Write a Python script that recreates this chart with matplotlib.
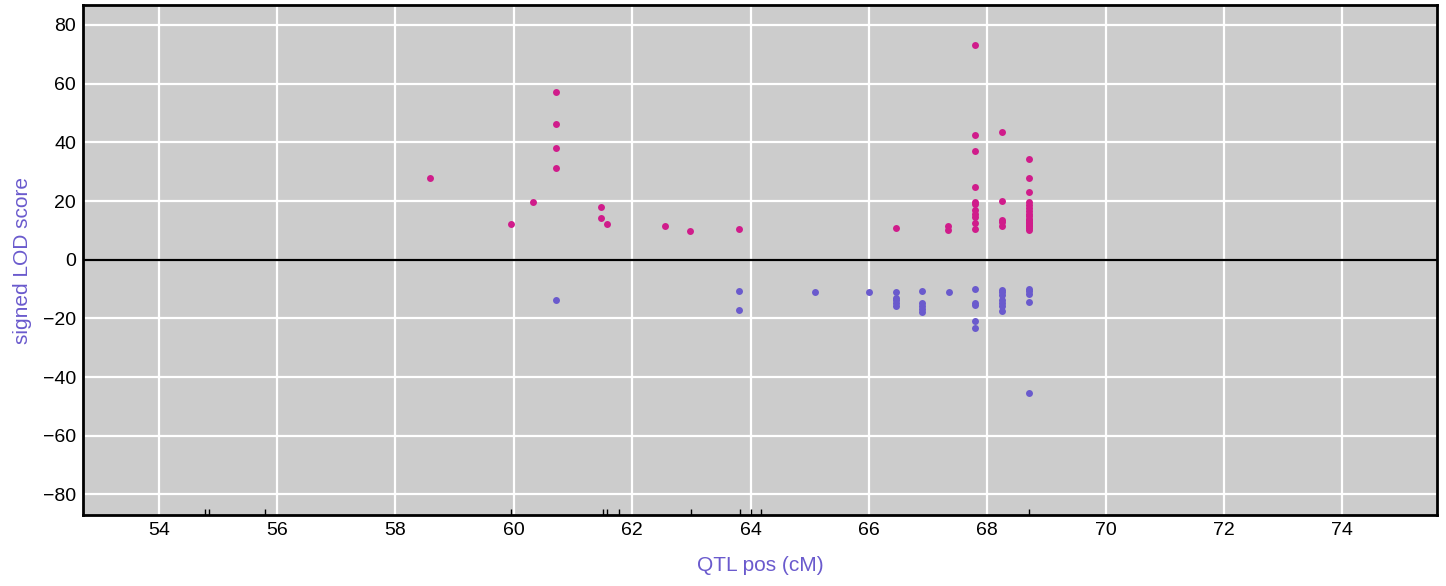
import numpy as np
import matplotlib.pyplot as plt

plt.rcParams['font.family'] = ['Liberation Sans', 'DejaVu Sans']

# positive LOD (pink)
pos_x = [58.58, 59.96, 60.33, 60.72, 60.72, 60.72, 60.72, 61.48, 61.48, 61.57,
         62.56, 62.97, 63.81, 66.45, 67.34, 67.34,
         67.80, 67.80, 67.80, 67.80, 67.80, 67.80, 67.80, 67.80, 67.80, 67.80, 67.80,
         68.25, 68.25, 68.25, 68.25, 68.25,
         68.70, 68.70, 68.70, 68.70, 68.70, 68.70, 68.70, 68.70, 68.70, 68.70,
         68.70, 68.70, 68.70, 68.70, 68.70, 68.70, 68.70]
pos_y = [28.0, 12.3, 19.8, 57.0, 46.4, 38.2, 31.1, 18.1, 14.3, 12.3,
         11.6, 9.9, 10.6, 10.9, 11.4, 10.2,
         73.1, 42.4, 36.9, 24.9, 19.6, 18.9, 16.9, 15.7, 14.5, 12.6, 10.5,
         43.5, 20.0, 13.6, 12.7, 11.6,
         34.3, 28.0, 23.0, 19.6, 18.5, 17.6, 16.5, 15.5, 14.8, 14.0,
         13.6, 12.9, 12.5, 11.8, 11.4, 10.8, 10.2]

# negative LOD (purple)
neg_x = [60.72, 63.81, 63.81, 65.09, 66.00,
         66.45, 66.45, 66.45, 66.45, 66.45,
         66.90, 66.90, 66.90, 66.90, 66.90,
         67.35,
         67.80, 67.80, 67.80, 67.80, 67.80,
         68.25, 68.25, 68.25, 68.25, 68.25, 68.25, 68.25,
         68.70, 68.70, 68.70, 68.70, 68.70]
neg_y = [-13.9, -10.8, -17.2, -10.9, -11.0,
         -11.1, -13.1, -13.9, -14.8, -15.7,
         -10.5, -14.8, -15.7, -16.7, -17.7,
         -11.0,
         -10.0, -14.6, -15.4, -20.8, -23.2,
         -10.4, -11.1, -11.9, -13.9, -14.8, -15.7, -17.6,
         -10.0, -10.8, -11.6, -14.3, -45.3]

# marker positions shown as a rug on the x axis
rug_x = [54.78, 54.85, 55.80, 59.95, 61.50, 61.58, 61.78, 62.99,
         63.82, 64.00, 64.18, 68.71]

fig = plt.figure(figsize=(14.46, 5.86), dpi=100)
ax = fig.add_axes([83 / 1446, 1 - 515 / 586, (1437 - 83) / 1446, (515 - 5) / 586])
ax.set_facecolor('#cccccc')

ax.set_xlim(52.72, 75.6)
ax.set_ylim(-87, 86.8)
ax.set_xticks(np.arange(54, 76, 2))
ax.set_yticks(np.arange(-80, 81, 20))
ax.grid(color='white', linewidth=1.6)
ax.set_axisbelow(True)
ax.tick_params(length=0, labelsize=14)
ax.tick_params(axis='x', pad=5)
ax.tick_params(axis='y', pad=5)
for s in ax.spines.values():
    s.set_linewidth(2)
    s.set_color('black')

ax.axhline(0, color='black', linewidth=1.6, zorder=2)
ax.vlines(rug_x, 0, 0.011, transform=ax.get_xaxis_transform(), color='black', linewidth=1)

ax.scatter(pos_x, pos_y, s=25, color='#d01c8b', linewidths=0, zorder=3)
ax.scatter(neg_x, neg_y, s=25, color='#6a5acd', linewidths=0, zorder=3)

ax.set_xlabel('QTL pos (cM)', color='#6a5acd', fontsize=15, labelpad=12)
ax.set_ylabel('signed LOD score', color='#6a5acd', fontsize=15, labelpad=8)

plt.savefig('out.png', dpi=100)
